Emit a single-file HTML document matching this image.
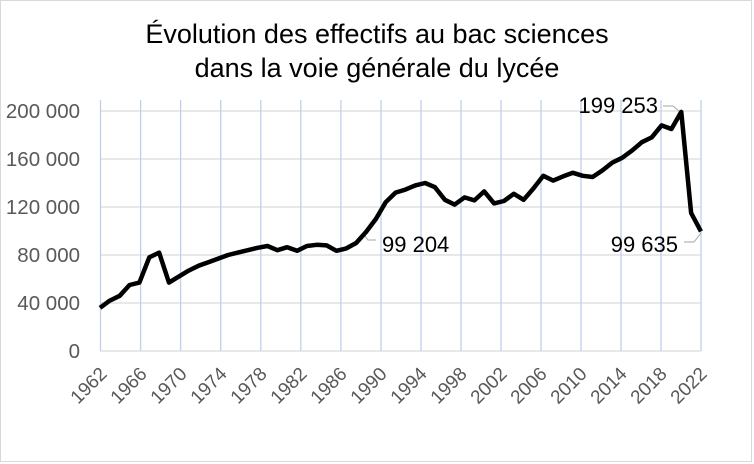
<!DOCTYPE html>
<html><head><meta charset="utf-8"><style>
html,body{margin:0;padding:0;background:#fff;}
svg{display:block;font-family:"Liberation Sans",Arial,sans-serif;}
</style></head><body>
<svg width="754" height="464" viewBox="0 0 754 464" xmlns="http://www.w3.org/2000/svg">
<rect x="0.5" y="0.5" width="751" height="461" fill="#fff" stroke="#d9d9d9"/>
<text x="377" y="43" font-size="27" text-anchor="middle" fill="#000">Évolution des effectifs au bac sciences</text>
<text x="377" y="77" font-size="27" text-anchor="middle" fill="#000">dans la voie générale du lycée</text>
<g stroke="#d9d9d9" stroke-width="1.2">
<line x1="100" y1="111" x2="701" y2="111"/>
<line x1="100" y1="159" x2="701" y2="159"/>
<line x1="100" y1="207" x2="701" y2="207"/>
<line x1="100" y1="255" x2="701" y2="255"/>
<line x1="100" y1="303" x2="701" y2="303"/>
<line x1="100" y1="351" x2="701" y2="351"/>
</g>
<g stroke="#bfd0ee" stroke-width="1.3">
<line x1="100.5" y1="100" x2="100.5" y2="351"/>
<line x1="140.6" y1="100" x2="140.6" y2="351"/>
<line x1="180.6" y1="100" x2="180.6" y2="351"/>
<line x1="220.7" y1="100" x2="220.7" y2="351"/>
<line x1="260.8" y1="100" x2="260.8" y2="351"/>
<line x1="300.8" y1="100" x2="300.8" y2="351"/>
<line x1="340.9" y1="100" x2="340.9" y2="351"/>
<line x1="381" y1="100" x2="381" y2="351"/>
<line x1="421" y1="100" x2="421" y2="351"/>
<line x1="461" y1="100" x2="461" y2="351"/>
<line x1="501" y1="100" x2="501" y2="351"/>
<line x1="541" y1="100" x2="541" y2="351"/>
<line x1="581" y1="100" x2="581" y2="351"/>
<line x1="621" y1="100" x2="621" y2="351"/>
<line x1="661" y1="100" x2="661" y2="351"/>
<line x1="701" y1="100" x2="701" y2="351"/>
</g>
<g font-size="20.5" fill="#595959" text-anchor="end">
<text x="80" y="118">200 000</text>
<text x="80" y="166">160 000</text>
<text x="80" y="214">120 000</text>
<text x="80" y="262">80 000</text>
<text x="80" y="310">40 000</text>
<text x="80" y="358">0</text>
</g>
<g font-size="19" fill="#595959" text-anchor="end">
<text transform="translate(108,375) rotate(-45)">1962</text>
<text transform="translate(148,375) rotate(-45)">1966</text>
<text transform="translate(188,375) rotate(-45)">1970</text>
<text transform="translate(228,375) rotate(-45)">1974</text>
<text transform="translate(268,375) rotate(-45)">1978</text>
<text transform="translate(308,375) rotate(-45)">1982</text>
<text transform="translate(348,375) rotate(-45)">1986</text>
<text transform="translate(388,375) rotate(-45)">1990</text>
<text transform="translate(428,375) rotate(-45)">1994</text>
<text transform="translate(468,375) rotate(-45)">1998</text>
<text transform="translate(508,375) rotate(-45)">2002</text>
<text transform="translate(548,375) rotate(-45)">2006</text>
<text transform="translate(588,375) rotate(-45)">2010</text>
<text transform="translate(628,375) rotate(-45)">2014</text>
<text transform="translate(668,375) rotate(-45)">2018</text>
<text transform="translate(708,375) rotate(-45)">2022</text>
</g>
<g fill="none" stroke="#a6a6a6" stroke-width="1">
<polyline points="363,233 368,240 376,240"/>
<polyline points="663,106 673,106 679,111"/>
<polyline points="684,242 694,242 701,233"/>
</g>
<g transform="translate(100,351) scale(9.852,-0.0012)">
<polyline fill="none" stroke="#000" stroke-width="4.5" stroke-linejoin="round" vector-effect="non-scaling-stroke" points="0,36000 1,42000 2,46000 3,55000 4,57000 5,78000 6,82000 7,57000 8,62000 9,67000 10,71000 11,74000 12,77000 13,80000 14,82000 15,84000 16,86000 17,87500 18,84000 19,86500 20,83500 21,87500 22,88500 23,88000 24,83500 25,85500 26,90000 27,99204 28,110000 29,124000 30,132000 31,134500 32,138000 33,140000 34,136500 35,126000 36,122000 37,128000 38,125500 39,133000 40,123000 41,125000 42,131000 43,126000 44,135500 45,146000 46,142000 47,145500 48,148500 49,146000 50,145000 51,150500 52,157000 53,161000 54,167000 55,174000 56,178000 57,188000 58,185000 59,199253 60,115000 61,99635"/>
</g>
<g font-size="22" fill="#000">
<text x="382" y="252">99 204</text>
<text x="658" y="113" text-anchor="end">199 253</text>
<text x="678" y="252" text-anchor="end">99 635</text>
</g>
</svg>
</body></html>
